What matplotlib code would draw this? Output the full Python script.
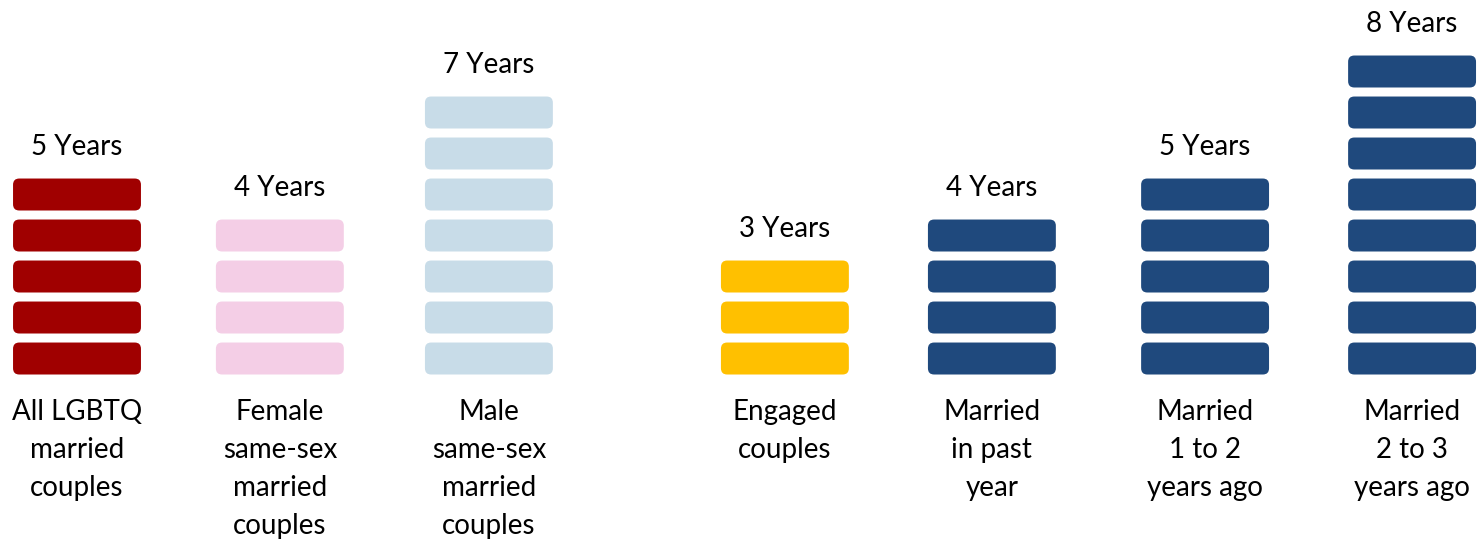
import matplotlib.pyplot as plt
from matplotlib.patches import FancyBboxPatch

# data
categorias = ["All LGBTQ\nmarried\ncouples",
              "Female\nsame-sex\nmarried\ncouples",
              "Male\nsame-sex\nmarried\ncouples",
              "Engaged\ncouples",
              "Married\nin past\nyear",
              "Married\n1 to 2\nyears ago",
              "Married\n2 to 3\nyears ago"]
anos = [5, 4, 7, 3, 4, 5, 8]
cores = ["#A00000", "#F4CEE6", "#C8DCE8", "#FFC000", "#1F497D", "#1F497D", "#1F497D"]

# column positions (gap between the two groups)
posicoes = [0, 0.98, 1.99, 3.42, 4.42, 5.45, 6.45]

plt.rcParams['font.family'] = ['Lato', 'DejaVu Sans']

fig = plt.figure(figsize=(14.81, 5.42), dpi=100)
ax = fig.add_axes([0, 0, 1, 1])
ax.set_xlim(-0.372, 6.783)
ax.set_ylim(-4.085, 9.134)
ax.axis('off')

largura = 0.618
altura = 0.78
px_x = 207.0
px_y = 41.0

for pos, n, cor, cat in zip(posicoes, anos, cores, categorias):
    for i in range(n):
        box = FancyBboxPatch((pos - largura / 2, i), largura, altura,
                             boxstyle="round,pad=0,rounding_size=0.03",
                             mutation_aspect=px_x / px_y,
                             facecolor=cor, edgecolor='none')
        ax.add_patch(box)
    ax.text(pos, n - 1 + altura + 0.78, f"{n} Years", ha='center', va='center',
            fontsize=20, color='#000000')
    ax.text(pos, -0.6, cat, ha='center', va='top', fontsize=20,
            color='#000000', linespacing=1.57)

fig.savefig("out.png", dpi=100)
